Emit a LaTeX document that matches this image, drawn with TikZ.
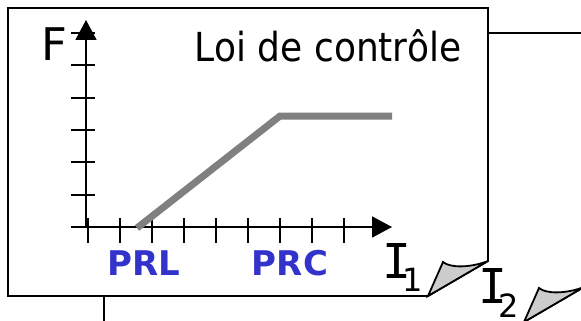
\documentclass[tikz,border=0pt]{standalone}
\usepackage{fontspec}
\setmainfont{DejaVu Sans}
\newfontfamily\titrefont[FakeStretch=0.9]{DejaVu Sans}
\newfontfamily\monofont{DejaVu Sans Mono}
\usepackage{xcolor}
\usetikzlibrary{arrows.meta}
\definecolor{bleuPR}{RGB}{51,51,204}
\definecolor{grisloi}{RGB}{128,128,128}

\begin{document}
\begin{tikzpicture}[x=1pt, y=-1pt, line width=1.8pt, >={Triangle[length=20pt, width=21pt]},
  fiche/.style={draw, fill=white},
  coin/.style={draw, fill=gray!40},
  texte/.style={inner sep=0pt, anchor=base},
  seuil/.style={texte, font=\fontsize{34}{34}\selectfont\bfseries, text=bleuPR},
  indice/.style={texte, anchor=base west}]
\useasboundingbox (0,0) rectangle (581,321);
\clip (0,0) rectangle (581,321);
% Fiches
\draw[fiche] (104,33) -- (584,33) -- (584,287) -- (524,322) -- (104,322) -- cycle;
\draw[coin] (524,322) -- (539,288) .. controls (546,294) and (566,294) .. (584,287) -- cycle;
\draw[fiche] (8,8) -- (488,8) -- (488,261) -- (428,296) -- (8,296) -- cycle;
\draw[coin] (428,296) -- (443,262) .. controls (450,268) and (470,268) .. (488,261) -- cycle;

% Axes
\coordinate (O) at (86,227);
\coordinate (haut) at (86,20);
\coordinate (droite) at (392,227);
\foreach \j in {0,...,6}
  \draw (71,{227-32.33*\j}) -- (95,{227-32.33*\j});
\foreach \i in {0,...,8}
  \draw ({88+32*\i},218) -- ({88+32*\i},243);
\draw[->] (O) -- (haut);
\draw[->] (O) -- (droite);

% Loi
\coordinate (debut) at (137,228);
\coordinate (coude) at (280,116);
\coordinate (fin) at (392,116);
\draw[grisloi, line width=7pt] (debut) -- (coude) -- (fin);

% Etiquettes
\node[texte, font=\fontsize{45}{45}\selectfont] (F) at (54,61) {F};
\node[texte, font=\titrefont\fontsize{40}{40}\selectfont] (titre) at (328,62) {Loi de contrôle};
\node[seuil] (PRL) at (144,275) {PRL};
\node[seuil] (PRC) at (290,275) {PRC};
\node[indice] (I1) at (382,278) {\monofont\fontsize{48}{48}\selectfont I\kern-9.5pt\raisebox{-13pt}{\rmfamily\fontsize{32}{32}\selectfont 1}};
\node[indice] (I2) at (478,303) {\monofont\fontsize{48}{48}\selectfont I\kern-9.5pt\raisebox{-14pt}{\rmfamily\fontsize{32}{32}\selectfont 2}};
\end{tikzpicture}
\end{document}
